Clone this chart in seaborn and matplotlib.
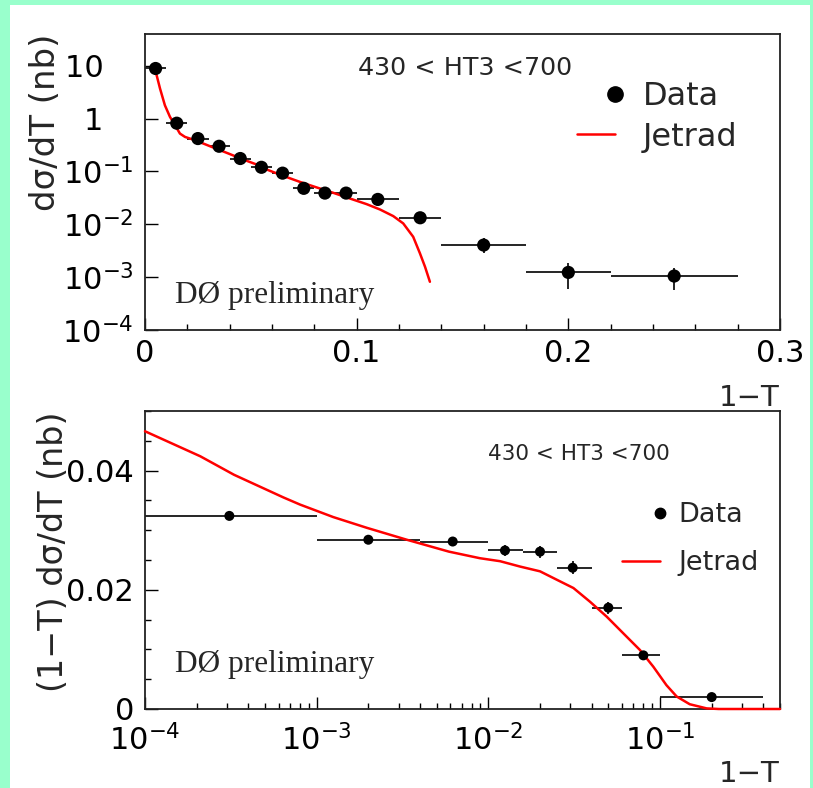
import numpy as np
import pandas as pd
import matplotlib
matplotlib.use("Agg")
import matplotlib.pyplot as plt
import seaborn as sns
from matplotlib.lines import Line2D
from matplotlib.legend_handler import HandlerLine2D
from matplotlib.patches import Rectangle
from matplotlib.ticker import (FixedLocator, FixedFormatter, MultipleLocator,
                               LogLocator, NullFormatter)

# ---------------- data : top panel (dsigma/dT vs 1-T) ----------------
top_x   = [0.005, 0.015, 0.025, 0.035, 0.045, 0.055, 0.065, 0.075, 0.085, 0.095,
           0.11, 0.13, 0.16, 0.20, 0.25]
top_xlo = [0.0, 0.01, 0.02, 0.03, 0.04, 0.05, 0.06, 0.07, 0.08, 0.09,
           0.10, 0.12, 0.14, 0.18, 0.22]
top_xhi = [0.01, 0.02, 0.03, 0.04, 0.05, 0.06, 0.07, 0.08, 0.09, 0.10,
           0.12, 0.14, 0.18, 0.22, 0.28]
top_y   = [8.9, 0.82, 0.42, 0.30, 0.176, 0.12, 0.093, 0.048, 0.039, 0.039,
           0.0296, 0.0133, 0.00405, 0.00123, 0.00105]
top_ylo = [8.6, 0.79, 0.405, 0.29, 0.170, 0.115, 0.089, 0.046, 0.037, 0.037,
           0.028, 0.0124, 0.00286, 0.00059, 0.00057]
top_yhi = [9.2, 0.85, 0.435, 0.31, 0.182, 0.125, 0.097, 0.050, 0.041, 0.041,
           0.0312, 0.0143, 0.0055, 0.00182, 0.00147]

jet_top_x = [0.0047, 0.0071, 0.0094, 0.0118, 0.0142, 0.0165, 0.0189, 0.0236,
             0.0315, 0.0394, 0.0472, 0.0535, 0.0575, 0.0653,
             0.0732, 0.0811, 0.0890, 0.0968, 0.1047, 0.1110, 0.1173, 0.1220,
             0.1267, 0.1299, 0.1323, 0.1346]
jet_top_y = [8.85, 3.71, 1.79, 1.08, 0.750, 0.522, 0.451, 0.391,
             0.292, 0.219, 0.164, 0.132, 0.109, 0.0826,
             0.0635, 0.0499, 0.0394, 0.0308, 0.0241, 0.0191, 0.0143, 0.0104,
             0.00581, 0.00282, 0.00157, 0.000818]

top_yticks  = [1e-4, 1e-3, 1e-2, 1e-1, 1, 10]
top_ylabels = [r"$10^{-4}$", r"$10^{-3}$", r"$10^{-2}$", r"$10^{-1}$",
               "1\u2002\u2002", "10\u2002\u2002"]
top_xticks  = [0.0, 0.1, 0.2, 0.3]
top_xlabels = ["0", "0.1", "0.2", "0.3"]

# ---------------- data : bottom panel ((1-T) dsigma/dT vs 1-T) ----------------
bot_x   = [3.1e-4, 2.0e-3, 6.2e-3, 1.25e-2, 2.0e-2, 3.1e-2, 5.0e-2, 8.0e-2, 2.0e-1]
bot_xlo = [1e-4, 1e-3, 4e-3, 1e-2, 1.6e-2, 2.5e-2, 4e-2, 6e-2, 1e-1]
bot_xhi = [1e-3, 4e-3, 1e-2, 1.6e-2, 2.5e-2, 4e-2, 6e-2, 1e-1, 4e-1]
bot_y   = [0.0324, 0.0284, 0.0281, 0.0266, 0.0264, 0.0237, 0.0170, 0.0090, 0.0020]
bot_yerr = [0.0003, 0.0003, 0.0003, 0.0010, 0.0010, 0.0011, 0.0010, 0.0006, 0.0006]

jet_bot_x = [1.0e-4, 2.1e-4, 3.3e-4, 6.4e-4, 8.0e-4, 1.25e-3, 1.96e-3, 3.35e-3,
             5.9e-3, 8.93e-3, 1.17e-2, 1.53e-2, 2.0e-2, 2.5e-2, 3.13e-2, 3.91e-2,
             4.89e-2, 6.11e-2, 7.64e-2, 9.14e-2, 1.09e-1, 1.25e-1, 1.49e-1,
             1.87e-1, 2.2e-1, 5.0e-1]
jet_bot_y = [0.0466, 0.0424, 0.0393, 0.0355, 0.0343, 0.0322, 0.0304, 0.0284,
             0.0264, 0.0253, 0.0248, 0.0239, 0.0231, 0.0217, 0.0203, 0.0180,
             0.0155, 0.0127, 0.0099, 0.0071, 0.0040, 0.0021, 0.0008,
             0.0001, 0.0, 0.0]

bot_xticks  = [1e-4, 1e-3, 1e-2, 1e-1]
bot_xlabels = [r"$10^{-4}$", r"$10^{-3}$", r"$10^{-2}$", r"$10^{-1}$"]
bot_yticks  = [0.0, 0.02, 0.04]
bot_ylabels = ["0", "0.02", "0.04"]

range_text = "430 < HT3 <700"
prelim_text = "DØ preliminary"
series_names = ["Data", "Jetrad"]

# ---------------- style ----------------
sns.set_style("ticks")
plt.rcParams["font.family"] = ["DejaVu Sans"]
plt.rcParams["mathtext.fontset"] = "dejavusans"
plt.rcParams["axes.linewidth"] = 1.3
plt.rcParams["axes.edgecolor"] = "#222222"

BG = "#99FFCC"
fig = plt.figure(figsize=(8.13, 7.88), dpi=100, facecolor=BG)
fig.patches.append(Rectangle((10 / 813, 0), 800 / 813, 783 / 788,
                             transform=fig.transFigure, facecolor="white",
                             edgecolor="none", zorder=-10))

W, H = 813.0, 788.0
ax1 = fig.add_axes([145 / W, 1 - 330 / H, 635 / W, 296 / H])
ax2 = fig.add_axes([145 / W, 1 - 709 / H, 635 / W, 298 / H])
for ax in (ax1, ax2):
    ax.set_facecolor("white")
    for s in ax.spines.values():
        s.set_visible(True)


class RightMarker(HandlerLine2D):
    """Legend key with the single marker at the right end of the key box."""
    def get_xdata(self, legend, xdescent, ydescent, width, height, fontsize):
        x_end = -xdescent + width
        return np.array([x_end, x_end]), np.array([x_end])


# ---------------- top panel ----------------
ax1.set_yscale("log")
tx = np.array(top_x)
ty = np.array(top_y)
ax1.errorbar(tx, ty,
             xerr=[tx - np.array(top_xlo), np.array(top_xhi) - tx],
             yerr=[ty - np.array(top_ylo), np.array(top_yhi) - ty],
             fmt="none", ecolor="black", elinewidth=1.2, capsize=0, zorder=2)
sns.scatterplot(data=pd.DataFrame({"x": top_x, "y": top_y}), x="x", y="y",
                ax=ax1, color="black", s=90, edgecolor="none", zorder=4, legend=False)
sns.lineplot(data=pd.DataFrame({"x": jet_top_x, "y": jet_top_y}), x="x", y="y",
             ax=ax1, color="red", lw=1.8, sort=False, estimator=None, zorder=3)

ax1.set_xlim(0, 0.3)
ax1.set_ylim(1e-4, 40)
ax1.xaxis.set_major_locator(FixedLocator(top_xticks))
ax1.xaxis.set_major_formatter(FixedFormatter(top_xlabels))
ax1.xaxis.set_minor_locator(MultipleLocator(0.02))
ax1.yaxis.set_major_locator(FixedLocator(top_yticks))
ax1.yaxis.set_major_formatter(FixedFormatter(top_ylabels))
ax1.yaxis.set_minor_locator(LogLocator(base=10, subs=np.arange(2, 10)))
ax1.yaxis.set_minor_formatter(NullFormatter())

ax1.set_xlabel("1−T", loc="right", fontsize=21)
ax1.xaxis.set_label_coords(1.0, -0.182)
ax1.set_ylabel("dσ/dT (nb)", loc="top", fontsize=24.5)
ax1.yaxis.set_label_coords(-0.131, 1.0)

ax1.text(0.335, 0.861, range_text, transform=ax1.transAxes, fontsize=18.3,
         ha="left", va="baseline")
ax1.text(0.047, 0.091, prelim_text, transform=ax1.transAxes, fontsize=22.5,
         family="Liberation Serif", ha="left", va="baseline")

h_data1 = Line2D([], [], marker="o", ls="none", color="black", markersize=11)
h_jet1 = Line2D([], [], color="red", lw=1.8)
ax1.legend([h_data1, h_jet1], series_names, loc="upper left",
           bbox_to_anchor=(0.680, 0.841), frameon=False, fontsize=23,
           handlelength=1.19, handletextpad=0.87, labelspacing=0.3,
           borderpad=0, borderaxespad=0,
           handler_map={h_data1: RightMarker(numpoints=1)})

# ---------------- bottom panel ----------------
ax2.set_xscale("log")
bx = np.array(bot_x)
by = np.array(bot_y)
ax2.errorbar(bx, by,
             xerr=[bx - np.array(bot_xlo), np.array(bot_xhi) - bx],
             yerr=bot_yerr,
             fmt="none", ecolor="black", elinewidth=1.2, capsize=0, zorder=2)
sns.scatterplot(data=pd.DataFrame({"x": bot_x, "y": bot_y}), x="x", y="y",
                ax=ax2, color="black", s=52, edgecolor="none", zorder=4, legend=False)
sns.lineplot(data=pd.DataFrame({"x": jet_bot_x, "y": jet_bot_y}), x="x", y="y",
             ax=ax2, color="red", lw=1.8, sort=False, estimator=None, zorder=3,
             clip_on=False)

ax2.set_xlim(1e-4, 0.5)
ax2.set_ylim(0, 0.05)
ax2.xaxis.set_major_locator(FixedLocator(bot_xticks))
ax2.xaxis.set_major_formatter(FixedFormatter(bot_xlabels))
ax2.xaxis.set_minor_locator(LogLocator(base=10, subs=np.arange(2, 10)))
ax2.xaxis.set_minor_formatter(NullFormatter())
ax2.yaxis.set_major_locator(FixedLocator(bot_yticks))
ax2.yaxis.set_major_formatter(FixedFormatter(bot_ylabels))
ax2.yaxis.set_minor_locator(MultipleLocator(0.005))

ax2.set_xlabel("1−T", loc="right", fontsize=21)
ax2.xaxis.set_label_coords(1.0, -0.171)
ax2.set_ylabel("(1−T) dσ/dT (nb)", loc="top", fontsize=24)
ax2.yaxis.set_label_coords(-0.118, 1.0)

ax2.text(0.540, 0.836, range_text, transform=ax2.transAxes, fontsize=15.5,
         ha="left", va="baseline")
ax2.text(0.047, 0.124, prelim_text, transform=ax2.transAxes, fontsize=22.5,
         family="Liberation Serif", ha="left", va="baseline")

h_data2 = Line2D([], [], marker="o", ls="none", color="black", markersize=7.5)
h_jet2 = Line2D([], [], color="red", lw=1.8)
ax2.legend([h_data2, h_jet2], series_names, loc="upper left",
           bbox_to_anchor=(0.751, 0.694), frameon=False, fontsize=19.5,
           handlelength=1.4, handletextpad=0.67, labelspacing=0.82,
           borderpad=0, borderaxespad=0,
           handler_map={h_data2: RightMarker(numpoints=1)})

for ax in (ax1, ax2):
    ax.tick_params(which="both", direction="in", top=False, right=False,
                   colors="black", width=1.0)
    ax.tick_params(which="major", length=9, labelsize=22)
    ax.tick_params(which="minor", length=4.5)
    ax.tick_params(axis="x", which="major", pad=6.5)
    ax.tick_params(axis="y", which="major", pad=8)
ax2.tick_params(axis="x", which="major", pad=11)

fig.savefig("out.png", dpi=100, facecolor=BG)
